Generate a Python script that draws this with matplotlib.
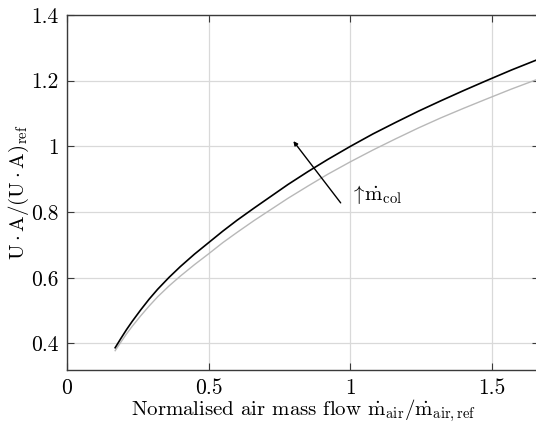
import matplotlib
matplotlib.use('Agg')
import matplotlib.pyplot as plt

# ── Datos ────────────────────────────────────────────────────────
x_ref = [0.17, 0.19, 0.21, 0.23, 0.26, 0.29, 0.32, 0.36, 0.40, 0.45,
         0.50, 0.55, 0.60, 0.66, 0.72, 0.78, 0.85, 0.92, 1.00, 1.08,
         1.16, 1.24, 1.32, 1.40, 1.48, 1.57, 1.666]
ua_alto = [0.387, 0.415, 0.442, 0.467, 0.502, 0.535, 0.565, 0.601, 0.634, 0.672,
           0.707, 0.742, 0.775, 0.812, 0.848, 0.884, 0.923, 0.960, 1.000, 1.038,
           1.073, 1.107, 1.139, 1.170, 1.200, 1.233, 1.266]
ua_bajo = [0.378, 0.404, 0.429, 0.452, 0.484, 0.514, 0.542, 0.575, 0.605, 0.640,
           0.673, 0.707, 0.738, 0.774, 0.808, 0.842, 0.879, 0.915, 0.953, 0.989,
           1.023, 1.056, 1.087, 1.116, 1.144, 1.175, 1.206]

xticks = [0, 0.5, 1, 1.5]
xtick_labels = ['0', '0.5', '1', '1.5']
yticks = [0.4, 0.6, 0.8, 1.0, 1.2, 1.4]
ytick_labels = ['0.4', '0.6', '0.8', '1', '1.2', '1.4']

# flecha "aumenta m_col": (x0, y0) -> (x1, y1)
flecha_ini = (0.966, 0.828)
flecha_fin = (0.799, 1.016)
texto_pos = (1.0, 0.852)

# ── Estilo tipo LaTeX / MATLAB ───────────────────────────────────
plt.rcParams['font.family'] = 'serif'
plt.rcParams['font.serif'] = ['cmr10']
plt.rcParams['mathtext.fontset'] = 'cm'
plt.rcParams['axes.formatter.use_mathtext'] = True

_EJE = '#3a3a3a'

fig = plt.figure(figsize=(5.36, 4.24), dpi=100)
ax = fig.add_axes([0.125, 0.128, 0.8806, 0.8366])

ax.plot(x_ref, ua_bajo, '-', color='#b8b8b8', lw=1.0, zorder=3)
ax.plot(x_ref, ua_alto, '-', color='black', lw=1.2, zorder=4)

ax.annotate('', xy=flecha_fin, xytext=flecha_ini,
            arrowprops=dict(arrowstyle='-|>', color='black', lw=1.0,
                            mutation_scale=6, shrinkA=0, shrinkB=0),
            zorder=5)
ax.text(texto_pos[0], texto_pos[1],
        r'$\uparrow\!\dot{\mathrm{m}}_{\mathrm{col}}$',
        fontsize=15, va='center', ha='left')

ax.set_xlim(0, 1.666)
ax.set_ylim(0.32, 1.4)
ax.set_xticks(xticks)
ax.set_xticklabels(xtick_labels)
ax.set_yticks(yticks)
ax.set_yticklabels(ytick_labels)

ax.grid(True, color='#d9d9d9', lw=0.9)
ax.set_axisbelow(True)
ax.tick_params(direction='in', top=True, right=True, length=5,
               width=0.8, color=_EJE, labelsize=15.5, pad=6)
for sp in ax.spines.values():
    sp.set_color(_EJE)
    sp.set_linewidth(1.0)

ax.set_xlabel(r'Normalised air mass flow $\dot{\mathrm{m}}_{\mathrm{air}}/\dot{\mathrm{m}}_{\mathrm{air,ref}}$',
              fontsize=15, labelpad=0)
ax.set_ylabel(r'$\mathrm{U}\cdot\mathrm{A}/(\mathrm{U}\cdot\mathrm{A})_{\mathrm{ref}}$',
              fontsize=15, labelpad=0)

fig.savefig('out.png', dpi=100)
